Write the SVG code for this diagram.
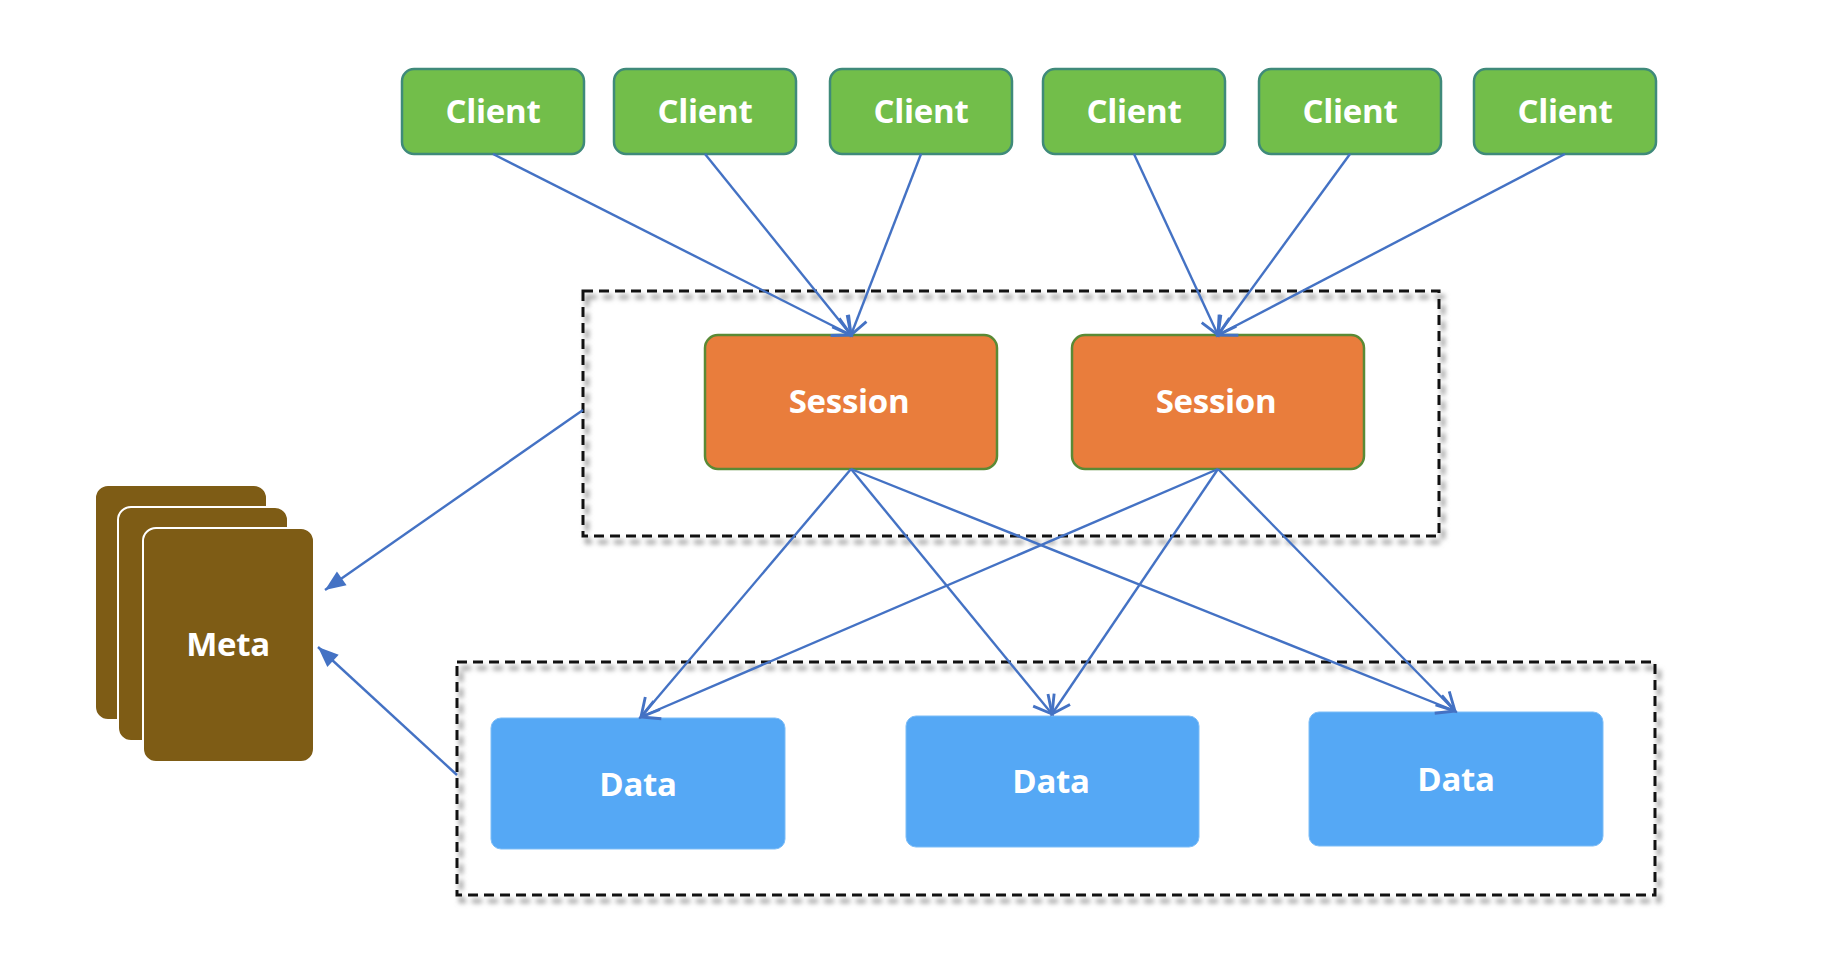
<svg xmlns="http://www.w3.org/2000/svg" width="1828" height="960" viewBox="0 0 1828 960">
<style>
.client rect{fill:#72BE4A;stroke:#3F8A7A;stroke-width:2.5}
.session rect{fill:#E97D3C;stroke:#5A8A35;stroke-width:2.5}
.data rect{fill:#55A8F5;stroke:#7DBDF7;stroke-width:1}
.meta rect{fill:#7E5C15;stroke:#ffffff;stroke-width:2}
text{font-family:"Open Sans","Noto Sans",sans-serif;font-weight:700;fill:#ffffff;text-anchor:middle}
.lbl{font-size:33px;letter-spacing:-0.3px}
.box{fill:none;stroke:#111;stroke-width:3;stroke-dasharray:10 6}
.shadow{fill:none;stroke:#999;stroke-width:4;stroke-dasharray:10 6}
.conn line{stroke:#4472C4;stroke-width:2.4;fill:none}
</style>
<defs>
<filter id="blur" x="-5%" y="-5%" width="110%" height="110%"><feGaussianBlur stdDeviation="2.5"/></filter>
<marker id="open" markerUnits="userSpaceOnUse" markerWidth="24" markerHeight="24" viewBox="-16 -10 20 20" refX="0" refY="0" orient="auto">
<path d="M-15,-8 L0,0 L-15,8" fill="none" stroke="#4472C4" stroke-width="2.4"/>
</marker>
<marker id="solid" markerUnits="userSpaceOnUse" markerWidth="24" markerHeight="24" viewBox="-18 -10 20 20" refX="0" refY="0" orient="auto">
<path d="M-17,-7 L0,0 L-17,7 Z" fill="#4472C4"/>
</marker>
</defs>
<rect width="1828" height="960" fill="#ffffff"/>

<g id="group-session">
<rect class="shadow" x="587" y="297" width="856" height="245" filter="url(#blur)"/>
<rect class="box" x="583" y="291" width="856" height="245"/>
</g>
<g id="group-data">
<rect class="shadow" x="461" y="668" width="1198" height="233" filter="url(#blur)"/>
<rect class="box" x="457" y="662" width="1198" height="233"/>
</g>

<g id="client1" class="client"><rect x="402" y="69" width="182" height="85" rx="12"/><text class="lbl" x="493" y="123">Client</text></g>
<g id="client2" class="client"><rect x="614" y="69" width="182" height="85" rx="12"/><text class="lbl" x="705" y="123">Client</text></g>
<g id="client3" class="client"><rect x="830" y="69" width="182" height="85" rx="12"/><text class="lbl" x="921" y="123">Client</text></g>
<g id="client4" class="client"><rect x="1043" y="69" width="182" height="85" rx="12"/><text class="lbl" x="1134" y="123">Client</text></g>
<g id="client5" class="client"><rect x="1259" y="69" width="182" height="85" rx="12"/><text class="lbl" x="1350" y="123">Client</text></g>
<g id="client6" class="client"><rect x="1474" y="69" width="182" height="85" rx="12"/><text class="lbl" x="1565" y="123">Client</text></g>

<g id="session1" class="session"><rect x="705" y="335" width="292" height="134" rx="13"/><text class="lbl" x="849" y="413">Session</text></g>
<g id="session2" class="session"><rect x="1072" y="335" width="292" height="134" rx="13"/><text class="lbl" x="1216" y="413">Session</text></g>

<g id="data1" class="data"><rect x="491" y="718" width="294" height="131" rx="10"/><text class="lbl" x="638" y="796">Data</text></g>
<g id="data2" class="data"><rect x="906" y="716" width="293" height="131" rx="10"/><text class="lbl" x="1051" y="793">Data</text></g>
<g id="data3" class="data"><rect x="1309" y="712" width="294" height="134" rx="10"/><text class="lbl" x="1456" y="791">Data</text></g>

<g id="meta" class="meta">
<rect x="95" y="485" width="172" height="235" rx="13"/>
<rect x="118" y="507" width="170" height="234" rx="13"/>
<rect x="143" y="528" width="171" height="234" rx="13"/>
<text class="lbl" x="228" y="656">Meta</text>
</g>

<g id="connectors" class="conn">
<line x1="493" y1="154" x2="851" y2="335" marker-end="url(#open)"/>
<line x1="705" y1="154" x2="851" y2="335" marker-end="url(#open)"/>
<line x1="921" y1="154" x2="851" y2="335" marker-end="url(#open)"/>
<line x1="1134" y1="154" x2="1218" y2="335" marker-end="url(#open)"/>
<line x1="1350" y1="154" x2="1218" y2="335" marker-end="url(#open)"/>
<line x1="1565" y1="154" x2="1218" y2="335" marker-end="url(#open)"/>
<line x1="851" y1="469" x2="641" y2="717" marker-end="url(#open)"/>
<line x1="851" y1="469" x2="1052" y2="714" marker-end="url(#open)"/>
<line x1="851" y1="469" x2="1455" y2="711" marker-end="url(#open)"/>
<line x1="1218" y1="469" x2="641" y2="717" marker-end="url(#open)"/>
<line x1="1218" y1="469" x2="1052" y2="714" marker-end="url(#open)"/>
<line x1="1218" y1="469" x2="1455" y2="711" marker-end="url(#open)"/>
<line x1="583" y1="410" x2="325" y2="590" marker-end="url(#solid)"/>
<line x1="457" y1="775" x2="318" y2="647" marker-end="url(#solid)"/>
</g>
</svg>
